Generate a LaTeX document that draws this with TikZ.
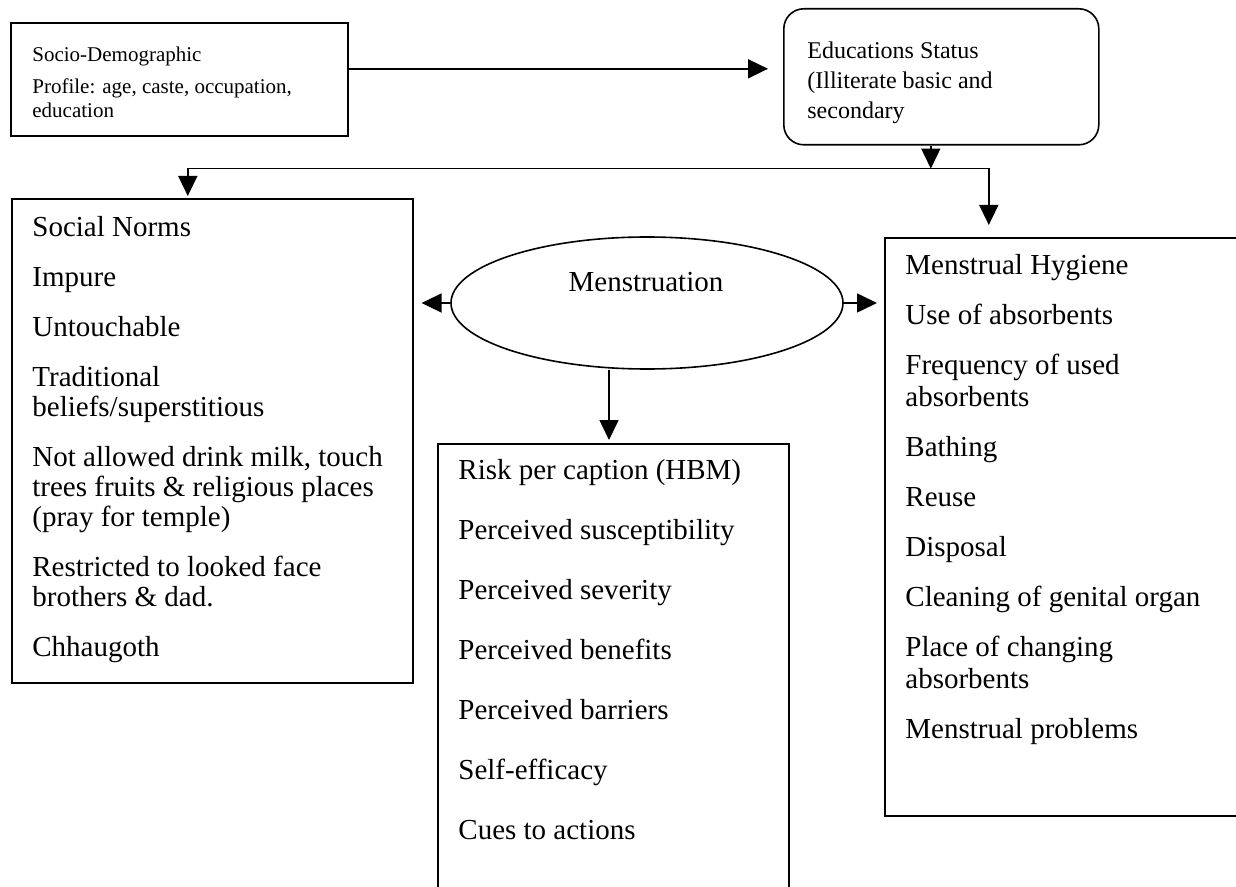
\documentclass[tikz,border=0pt]{standalone}
\usepackage{fontspec}
\setmainfont{Liberation Serif}
\usetikzlibrary{arrows.meta,shapes.geometric}
\begin{document}
\begin{tikzpicture}[x=0.5pt,y=-0.5pt]
\tikzset{
  box/.style={draw, line width=0.8pt, rectangle, inner sep=0pt, anchor=north west},
  txt/.style={anchor=north west, inner sep=0pt, align=left},
  arr/.style={line width=0.8pt, -{Triangle[length=10pt,width=9.5pt]}},
}
\useasboundingbox (0,0) rectangle (1236,887);
\fill[white] (0,0) rectangle (1236,887);
\clip (0,0) rectangle (1236,887);

% frames
\node[box, minimum width=168.5pt, minimum height=56.5pt] (socio) at (10,22) {};
\node[box, rounded corners=10pt, minimum width=157.5pt, minimum height=68pt] (educ) at (783,8) {};
\node[box, minimum width=200.5pt, minimum height=242pt] (social) at (11,198) {};
\node[draw, ellipse, line width=0.8pt, inner sep=0pt, minimum width=196pt, minimum height=66pt] (menstr) at (647,303) {};
\node[box, minimum width=175.5pt, minimum height=233.5pt] (hbm) at (437,443) {};
\node[box, minimum width=183pt, minimum height=289pt] (hygiene) at (884,237) {};

% texts
\node[txt, font=\fontsize{10.5}{12}\selectfont] (sociotxt) at (32,47)
  {Socio-Demographic\\[4pt] Profile: age, caste, occupation,\\ education};
\node[txt, font=\fontsize{12}{15}\selectfont] (eductxt) at (807,41)
  {Educations Status\\ (Illiterate basic and\\ secondary};
\node[txt, font=\fontsize{14.5}{15}\selectfont] (socialtxt) at (32,216)
  {Social Norms\\[10pt] Impure\\[10pt] Untouchable\\[10pt] Traditional\\ beliefs/superstitious\\[10pt]
   Not allowed drink milk, touch\\ trees fruits \& religious places\\ (pray for temple)\\[10pt]
   Restricted to looked face\\ brothers \& dad.\\[10pt] Chhaugoth};
\node[inner sep=0pt, font=\fontsize{14.5}{15}\selectfont] (menstrtxt) at (646,282) {Menstruation};
\node[txt, font=\fontsize{14.5}{15}\selectfont] (hbmtxt) at (458,459)
  {Risk per caption (HBM)\\[15pt] Perceived susceptibility\\[15pt] Perceived severity\\[15pt]
   Perceived benefits\\[15pt] Perceived barriers\\[15pt] Self-efficacy\\[15pt] Cues to actions};
\node[txt, font=\fontsize{14.5}{16}\selectfont] (hygtxt) at (905,254)
  {Menstrual Hygiene\\[9pt] Use of absorbents\\[9pt] Frequency of used\\ absorbents\\[9pt] Bathing\\[9pt]
   Reuse\\[9pt] Disposal\\[9pt] Cleaning of genital organ\\[9pt] Place of changing\\ absorbents\\[9pt]
   Menstrual problems};

% connectors
\coordinate (sdout) at ([yshift=5.25pt]socio.east);
\draw[arr, shorten >=7.5pt] (sdout) -- (sdout -| educ.west);

\coordinate (edout) at ([xshift=-5.25pt]educ.south);
\path (edout) ++(0,23) coordinate (split);
\draw[arr] (edout) -- (split);
\coordinate (socin) at ([xshift=-12.25pt]social.north);
\coordinate (hygin) at ([xshift=-39.5pt]hygiene.north);
\draw[arr, shorten >=1pt] (split) -| (socin);
\draw[arr, shorten >=6pt] (split) -| (hygin);

\draw[arr, shorten >=4pt] (menstr.west) -- (menstr.west -| social.east);
\draw[arr, shorten >=3.5pt] (menstr.east) -- (menstr.east -| hygiene.west);
\coordinate (mdown) at ([xshift=-19pt]menstr.south);
\draw[arr, shorten >=1.5pt] (mdown) -- (mdown |- hbm.north);
\end{tikzpicture}
\end{document}
